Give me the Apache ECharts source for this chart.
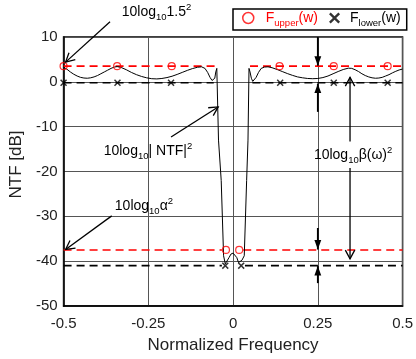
<!DOCTYPE html>
<html><head><meta charset="utf-8">
<script src="https://cdn.jsdelivr.net/npm/echarts@6/dist/echarts.min.js"></script>
<style>html,body{margin:0;padding:0;background:#fff}#c{width:416px;height:359px}</style>
</head><body><div id="c"></div>
<script>
// ---- data ----
const xTickValues = [-0.5, -0.25, 0, 0.25, 0.5];
const yTickValues = [-50, -40, -30, -20, -10, 0, 10];
const ntfX = [-0.500,-0.490,-0.480,-0.470,-0.460,-0.450,-0.440,-0.430,-0.420,-0.410,-0.400,-0.390,-0.380,-0.370,-0.360,-0.350,-0.342,
  -0.330,-0.315,-0.300,-0.285,-0.270,-0.255,-0.240,-0.225,-0.210,-0.195,-0.180,-0.165,-0.150,-0.135,-0.120,-0.105,-0.093,
  -0.083,-0.075,-0.068,-0.062,-0.058,-0.054,-0.051,-0.048,-0.043,-0.035,-0.028,-0.023,-0.018,-0.012,-0.006,0.000,
  0.005,0.011,0.016,0.021,0.026,0.033,0.040,0.044,0.047,0.050,0.054,0.058,0.062,0.068,0.075,0.083,0.093,0.103,
  0.115,0.130,0.145,0.160,0.175,0.190,0.205,0.220,0.235,0.250,0.265,0.280,0.295,0.310,0.325,0.340,0.350,0.360,
  0.370,0.380,0.390,0.400,0.410,0.420,0.430,0.440,0.450,0.460,0.470,0.480,0.490,0.500];
const ntfY = [3.3,2.8,2.2,1.7,1.3,1.0,0.85,0.8,0.9,1.1,1.4,1.8,2.2,2.6,3.0,3.3,3.4,
  3.2,2.7,2.1,1.6,1.2,0.9,0.7,0.65,0.75,0.95,1.25,1.65,2.1,2.55,2.95,3.25,3.35,
  3.0,2.1,1.0,0.3,0.1,0.8,2.2,3.0,-13,-22,-38.8,-40.6,-40.3,-39.2,-38.4,-38.2,
  -38.4,-39.2,-40.3,-40.6,-39.8,-38.8,-22,-13,3.0,2.2,0.8,0.1,0.3,1.0,2.1,3.0,3.3,3.35,
  3.15,2.75,2.3,1.85,1.45,1.1,0.9,0.75,0.7,0.75,0.95,1.3,1.8,2.3,2.75,3.05,3.0,2.7,
  2.3,1.8,1.4,1.1,0.9,0.8,0.85,1.0,1.3,1.6,2.0,2.35,2.65,2.85];
const upperPassLevel = 3.5, upperStopLevel = -37.5;
const lowerPassLevel = -0.2, lowerStopLevel = -41;
const upperPassSegs = [[-0.5,-0.047],[0.05,0.5]];
const upperStopSegs = [[-0.5,-0.033],[0.030,0.5]];
const lowerPassSegs = [[-0.5,-0.057],[0.057,0.5]];
const lowerStopSegs = [[-0.5,-0.033],[0.035,0.5]];
const upperMarkX = [-0.5,-0.342,-0.181,-0.021,0.018,0.137,0.297,0.456];
const upperMarkY = [3.5,3.5,3.5,-37.5,-37.5,3.5,3.5,3.5];
const lowerMarkX = [-0.5,-0.341,-0.183,-0.023,0.024,0.139,0.297,0.456];
const lowerMarkY = [-0.2,-0.2,-0.2,-41,-41,-0.2,-0.2,-0.2];

// ---- build ----
const FONT = '"Liberation Sans", Arial, sans-serif';
const crossPath = 'path://M0,1.5L1.5,0L5,3.5L8.5,0L10,1.5L6.5,5L10,8.5L8.5,10L5,6.5L1.5,10L0,8.5L3.5,5Z';
function segs(list, y){ const out=[]; list.forEach((s,i)=>{ if(i) out.push([s[0],'-']); out.push([s[0],y],[s[1],y]); }); return out; }
function pairs(xs, ys){ return xs.map((x,i)=>[x, ys[i]]); }

const chart = echarts.init(document.getElementById('c'));
const legRich = {
  sp1:{width:7}, sp2:{width:5},
  Fr:{fontSize:14,fontFamily:FONT,color:'#f00',lineHeight:20},
  sr:{fontSize:9.5,fontFamily:FONT,color:'#f00',lineHeight:14,verticalAlign:'bottom'},
  Fk:{fontSize:14,fontFamily:FONT,color:'#000',lineHeight:20},
  sk:{fontSize:9.5,fontFamily:FONT,color:'#000',lineHeight:14,verticalAlign:'bottom'}
};
chart.setOption({
  animation:false,
  grid:{left:61,right:10,top:37,bottom:53,show:true,borderColor:'#000',borderWidth:1.5,backgroundColor:'#fff'},
  xAxis:{type:'value',min:-0.5,max:0.5,interval:0.25,
    name:'Normalized Frequency',nameLocation:'middle',nameGap:31,
    nameTextStyle:{fontSize:17,fontFamily:FONT,color:'#222'},
    axisLine:{onZero:false,lineStyle:{color:'#000',width:1.5}},axisTick:{show:false},
    axisLabel:{fontSize:15,fontFamily:FONT,color:'#222',margin:10,formatter:v=>String(v)},
    splitLine:{show:true,lineStyle:{color:'#555',width:1}}},
  yAxis:{type:'value',min:-50,max:10,interval:10,
    name:'NTF [dB]',nameLocation:'middle',nameGap:34,
    nameTextStyle:{fontSize:17,fontFamily:FONT,color:'#222',padding:[0,0,0,14]},
    axisLine:{show:true,onZero:false,lineStyle:{color:'#000',width:1.5}},axisTick:{show:false},
    axisLabel:{fontSize:15,fontFamily:FONT,color:'#222',margin:6},
    splitLine:{show:true,lineStyle:{color:'#555',width:1}}},
  legend:{left:233,top:9,padding:[2,6,2,9],itemGap:11,itemWidth:11,itemHeight:11,
    borderColor:'#000',borderWidth:1.5,borderRadius:0,backgroundColor:'#fff',
    data:[{name:'F_upper(w)',icon:'circle',itemStyle:{color:'rgba(0,0,0,0)',borderColor:'#f00',borderWidth:1.5}},
          {name:'F_lower(w)',icon:crossPath,itemStyle:{color:'#000'}}],
    formatter:n=> n==='F_upper(w)' ? '{sp1|}{Fr|F}{sr|upper}{Fr|(w)}' : '{sp2|}{Fk|F}{sk|lower}{Fk|(w)}',
    textStyle:{rich:legRich}},
  series:[
    {type:'line',name:'upperLine',data:segs(upperPassSegs,upperPassLevel).concat([[0,'-']],segs(upperStopSegs,upperStopLevel)),
      showSymbol:false,symbol:'none',connectNulls:false,lineStyle:{color:'#f00',width:1.6,type:[8,5]},z:2},
    {type:'line',name:'lowerLine',data:segs(lowerPassSegs,lowerPassLevel).concat([[0,'-']],segs(lowerStopSegs,lowerStopLevel)),
      showSymbol:false,symbol:'none',connectNulls:false,lineStyle:{color:'#000',width:1.6,type:[8,5]},z:2},
    {type:'line',name:'NTF',data:pairs(ntfX,ntfY),showSymbol:false,symbol:'none',
      lineStyle:{color:'#000',width:1},z:3},
    {type:'scatter',name:'F_upper(w)',data:pairs(upperMarkX,upperMarkY),symbol:'circle',symbolSize:7,
      itemStyle:{color:'rgba(0,0,0,0)',borderColor:'#f00',borderWidth:1.2},z:4},
    {type:'scatter',name:'F_lower(w)',data:pairs(lowerMarkX,lowerMarkY),symbol:crossPath,symbolSize:7,
      itemStyle:{color:'#000'},z:4}
  ]
});

// ---- annotations (data coordinates, converted through the axes) ----
const P = (x,y)=>chart.convertToPixel({gridIndex:0},[x,y]);
const g = [];
function openArrow(from,to,len,ang,w){
  const a=P(from[0],from[1]), b=P(to[0],to[1]);
  g.push({type:'line',shape:{x1:a[0],y1:a[1],x2:b[0],y2:b[1]},style:{stroke:'#000',lineWidth:w||1.3},z:50});
  head(a,b,len,ang,false,w);
}
function head(a,b,len,ang,filled,w){
  const dx=a[0]-b[0], dy=a[1]-b[1], L=Math.hypot(dx,dy), ux=dx/L, uy=dy/L;
  const r=ang*Math.PI/180, c=Math.cos(r), s=Math.sin(r);
  const p1=[b[0]+len*(ux*c-uy*s), b[1]+len*(ux*s+uy*c)];
  const p2=[b[0]+len*(ux*c+uy*s), b[1]+len*(-ux*s+uy*c)];
  if(filled) g.push({type:'polygon',shape:{points:[b,p1,p2]},style:{fill:'#000'},z:51});
  else g.push({type:'polyline',shape:{points:[p1,b,p2]},style:{stroke:'#000',lineWidth:w||1.3,fill:null},z:51});
}
function filledArrow(from,to){
  const a=P(from[0],from[1]), b=P(to[0],to[1]);
  g.push({type:'line',shape:{x1:a[0],y1:a[1],x2:b[0],y2:b[1]},style:{stroke:'#000',lineWidth:1.8},z:50});
  head(a,b,10,20,true);
}
const aRich = {
  m:{fontSize:14,fontFamily:FONT,lineHeight:20,fill:'#000'},
  s:{fontSize:9.5,fontFamily:FONT,lineHeight:14,verticalAlign:'bottom',fill:'#000'},
  p:{fontSize:9.5,fontFamily:FONT,lineHeight:12,verticalAlign:'top',fill:'#000'}
};
function label(x,y,text){ const q=P(x,y); g.push({type:'text',x:q[0],y:q[1],z:60,
  style:{text:text,rich:aRich,fill:'#000',align:'left',verticalAlign:'middle'}}); }

// arrows
openArrow([-0.363,13.4],[-0.494,4.4],10,28);
openArrow([-0.183,-12.3],[-0.044,-5.6],10,28);
openArrow([-0.358,-29.9],[-0.494,-37.4],10,28);
// beta double arrow, broken by its label
openArrow([0.345,-13.3],[0.345,1.0],10,28);
openArrow([0.345,-19.2],[0.345,-39.5],10,28);
// tolerance arrows at 0.25
filledArrow([0.25,10],[0.25,3.6]);
filledArrow([0.25,-6.7],[0.25,-0.4]);
filledArrow([0.25,-32.6],[0.25,-37.4]);
filledArrow([0.25,-44.9],[0.25,-41.1]);
// labels
label(-0.3285,15.6,'{m|10log}{s|10}{m|1.5}{p|2}');
label(-0.3817,-15.4,'{m|10log}{s|10}{m|| NTF|}{p|2}');
label(-0.3488,-27.8,'{m|10log}{s|10}{m|α}{p|2}');
label(0.2384,-16.4,'{m|10log}{s|10}{m|β(ω)}{p|2}');
chart.setOption({graphic:g});
</script></body></html>
